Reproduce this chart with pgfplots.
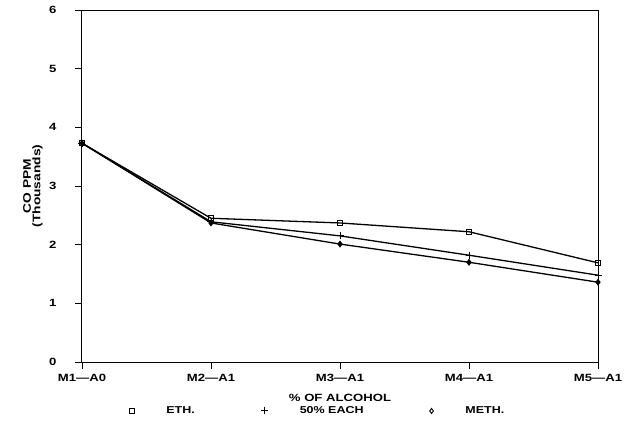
\documentclass[border=0pt]{standalone}
\usepackage{fontspec}
\setmainfont{Liberation Sans}[FakeStretch=1.25]
\usepackage{pgfplots}
\pgfplotsset{compat=1.18}
\pgfplotstableread{
x eth half meth
0 3.73 3.73 3.73
1 2.45 2.39 2.37
2 2.37 2.15 2.01
3 2.22 1.82 1.70
4 1.69 1.48 1.36
}\datatable
\begin{document}
\begin{tikzpicture}
\useasboundingbox (-82pt,-64pt) rectangle (545pt,362pt);
\begin{axis}[
  scale only axis, width=516pt, height=352pt,
  at={(0,0)}, anchor=south west,
  xmin=0, xmax=4, ymin=0, ymax=6,
  xtick={0,1,2,3,4},
  xticklabels={M1---A0,M2---A1,M3---A1,M4---A1,M5---A1},
  ytick={0,1,2,3,4,5,6},
  tick align=outside, major tick length=7pt,
  xtick pos=lower, ytick pos=left,
  axis line style={line width=1pt},
  tick style={line width=0.9pt, black},
  /pgf/number format/assume math mode=true,
  ticklabel style={font=\fontsize{10.5}{12}\selectfont\bfseries},
  yticklabel style={xshift=-15pt},
  xticklabel style={yshift=-2pt},
  xlabel={\% OF ALCOHOL},
  every axis x label/.style={at={(axis description cs:0.5,-0.1023)}, anchor=center, font=\fontsize{10.5}{12}\selectfont\bfseries},
  ylabel={CO PPM\\(Thousands)},
  every axis y label/.style={at={(axis description cs:-0.095,0.5)}, rotate=90, anchor=center, align=center, font=\fontsize{11}{9.5}\selectfont\bfseries},
  legend columns=3,
  legend style={at={(axis description cs:0.457,-0.139)}, anchor=center, draw=none, fill=none,
    font=\fontsize{10}{11}\selectfont\bfseries,
    /tikz/every odd column/.append style={column sep=30pt},
    /tikz/every even column/.append style={column sep=64pt}},
]
\addplot[black, line width=1.3pt, mark=square, mark size=2.5pt, mark options={line width=0.9pt, fill=white}, forget plot] table[x=x, y=eth] {\datatable};
\addplot[black, line width=1.3pt, mark=+, mark size=3.5pt, mark options={line width=0.9pt}, forget plot] table[x=x, y=half] {\datatable};
\addplot[black, line width=1.3pt, mark=diamond*, mark size=2.5pt, mark options={fill=black}, forget plot] table[x=x, y=meth] {\datatable};
\addlegendimage{only marks, black, mark=square, mark size=2.5pt, mark options={line width=0.9pt}}
\addlegendentry{ETH.}
\addlegendimage{only marks, black, mark=+, mark size=3.5pt, mark options={line width=0.9pt}}
\addlegendentry{50\% EACH}
\addlegendimage{only marks, black, mark=diamond, mark size=2.5pt, mark options={line width=0.9pt}}
\addlegendentry{METH.}
\end{axis}
\end{tikzpicture}
\end{document}
